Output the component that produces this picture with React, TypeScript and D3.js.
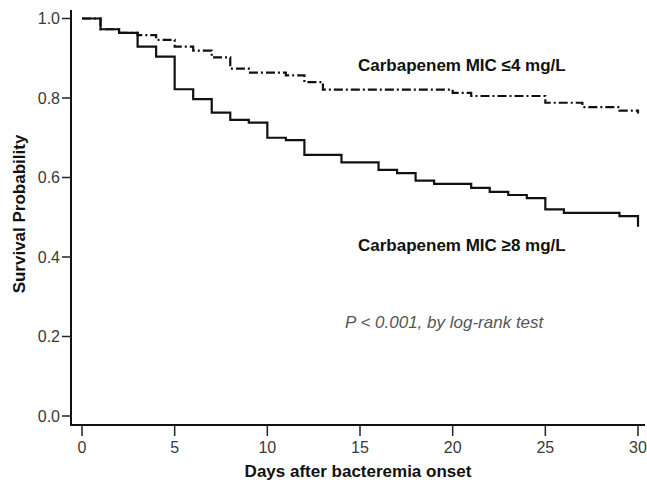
import React from "react";
import * as d3 from "d3";

const lowTimes = [0, 1, 2, 3, 4, 5, 6, 7, 8, 9, 11, 12, 13, 20, 21, 25, 27, 29, 30];
const lowSurv = [1.0, 0.973, 0.964, 0.958, 0.946, 0.929, 0.919, 0.902, 0.874, 0.864, 0.857, 0.84, 0.821, 0.813, 0.805, 0.788, 0.777, 0.768, 0.761];

const highTimes = [0, 1, 2, 3, 4, 5, 6, 7, 8, 9, 10, 11, 12, 14, 16, 17, 18, 19, 21, 22, 23, 24, 25, 26, 29, 30];
const highSurv = [1.0, 0.973, 0.964, 0.929, 0.904, 0.822, 0.797, 0.763, 0.745, 0.738, 0.7, 0.694, 0.657, 0.638, 0.619, 0.611, 0.592, 0.584, 0.574, 0.564, 0.556, 0.548, 0.52, 0.511, 0.503, 0.476];

const xTicks = [0, 5, 10, 15, 20, 25, 30];
const yTicks = [0, 0.2, 0.4, 0.6, 0.8, 1.0];

const labelLow = "Carbapenem MIC \u22644 mg/L";
const labelHigh = "Carbapenem MIC \u22658 mg/L";
const xTitle = "Days after bacteremia onset";
const yTitle = "Survival Probability";
const pText = "P < 0.001, by log-rank test";

export default function App() {
  const W = 647, H = 484;
  const x = d3.scaleLinear().domain([0, 30]).range([82, 638]);
  const y = d3.scaleLinear().domain([0, 1]).range([416, 18.5]);
  const axisX = 71, axisY = 425;
  const line = d3
    .line<[number, number]>()
    .x((d) => x(d[0]))
    .y((d) => y(d[1]))
    .curve(d3.curveStepAfter);
  const lowPts = lowTimes.map((t, i) => [t, lowSurv[i]] as [number, number]);
  const highPts = highTimes.map((t, i) => [t, highSurv[i]] as [number, number]);
  const font = "'Liberation Sans', Arial, sans-serif";
  return (
    <svg width={W} height={H} style={{ position: "absolute", left: 0, top: 0, background: "#fff" }} fontFamily={font}>
      <rect x={0} y={0} width={W} height={H} fill="#fff" />
      {/* axes */}
      <line x1={axisX} x2={axisX} y1={10} y2={axisY + 1} stroke="#111" strokeWidth={2} />
      <line x1={axisX - 1} x2={645} y1={axisY} y2={axisY} stroke="#111" strokeWidth={2} />
      {yTicks.map((v) => (
        <g key={"y" + v}>
          <line x1={62} x2={axisX} y1={y(v)} y2={y(v)} stroke="#222" strokeWidth={1.5} />
          <text x={60} y={y(v) + 5.5} textAnchor="end" fontSize={16} fill="#3a3a3a">
            {v.toFixed(1)}
          </text>
        </g>
      ))}
      {xTicks.map((v) => (
        <g key={"x" + v}>
          <line x1={x(v)} x2={x(v)} y1={axisY} y2={axisY + 11} stroke="#222" strokeWidth={1.5} />
          <text x={x(v)} y={453} textAnchor="middle" fontSize={16} fill="#3a3a3a">
            {v}
          </text>
        </g>
      ))}
      <text x={358} y={477} textAnchor="middle" fontSize={17} fontWeight="bold" fill="#111">
        {xTitle}
      </text>
      <text
        transform={`translate(25,214) rotate(-90)`}
        textAnchor="middle"
        fontSize={17}
        fontWeight="bold"
        fill="#111"
      >
        {yTitle}
      </text>
      {/* curves */}
      <path d={line(lowPts) || ""} fill="none" stroke="#111" strokeWidth={2.2} strokeDasharray="9,3,2,3" />
      <path d={line(highPts) || ""} fill="none" stroke="#111" strokeWidth={2.2} />
      {/* labels */}
      <text x={358} y={71} fontSize={17} fontWeight="bold" fill="#111">
        {labelLow}
      </text>
      <text x={358} y={251} fontSize={17} fontWeight="bold" fill="#111">
        {labelHigh}
      </text>
      <text x={345} y={328} fontSize={17} fontStyle="italic" fill="#555">
        {pText}
      </text>
    </svg>
  );
}
